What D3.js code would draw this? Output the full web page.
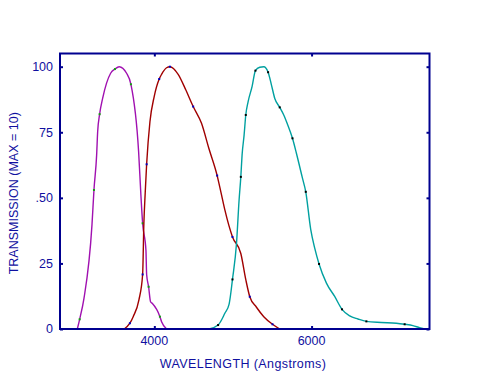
<!DOCTYPE html>
<html><head><meta charset="utf-8">
<script src="https://cdn.jsdelivr.net/npm/d3@7"></script>
<style>body{margin:0;background:#fff}svg{display:block}text{font-family:"Liberation Sans",Arial,sans-serif;fill:#1010a0}</style>
</head><body><svg id="c" width="491" height="379"></svg>
<script>
const xTicks = [4000, 6000];
const xTickLabels = ["4000", "6000"];
const yTicks = [0, 25, 50, 75, 100];
const yTickLabels = ["0", "25", ".50", "75", "100"];
const xTitle = "WAVELENGTH (Angstroms)";
const yTitle = "TRANSMISSION (MAX = 10)";

const uWave = [3020,3050,3105,3207,3232,3266,3279,3304,3343,3444,3499,3553,3647,3702,3800,3829,3851,3893,3902,3927,3952,3973,4071,4092,4156];
const uTrans = [0,3.7,11.7,39.8,53,66.3,75.2,81.9,88.0,97.5,99.1,100,97.5,93.3,67.6,51.1,40.3,30.1,20.8,16.1,10.4,9.8,4.7,2.8,0];

const bWave = [3617,3689,3731,3804,3851,3867,3884,3902,3944,3998,4062,4092,4156,4198,4303,4401,4494,4600,4693,4799,4846,4897,4994,5100,5164,5214,5299,5392,5503,5595];
const bTrans = [0,2.2,4.7,11.1,20.8,40.3,52,62.8,79.0,88.6,95.3,97.1,99.6,100,97.1,91.1,84.8,78.4,68.9,58.5,52.3,45.4,35.1,28.8,18.7,12.3,8.3,4.7,1.8,0];

const vWave = [4697,4811,4897,4951,4994,5045,5078,5100,5116,5142,5163,5193,5243,5286,5341,5392,5447,5490,5532,5595,5646,5693,5757,5807,5884,5926,5989,6040,6095,6189,6294,6387,6485,6590,6697,6888,7078,7184,7289,7374,7438];
const vTrans = [0,1.5,6.0,9.5,18.9,32.6,49.2,58.0,66.3,74.0,81.6,86.7,92.4,98.5,99.8,100,97.9,93.0,87.9,84.5,81.6,78.1,72.7,67.0,57.5,52.3,38.0,30.8,24.8,17.5,12.4,7.5,5.0,3.8,2.9,2.5,2.2,1.8,1.3,0.5,0];

const series = [
  {w: uWave, t: uTrans, color: "#a010b0", mark: "#10a010"},
  {w: bWave, t: bTrans, color: "#a00000", mark: "#0000c0"},
  {w: vWave, t: vTrans, color: "#00a0a0", mark: "#000000"}
];

const L = 60, R = 429.5, T = 53.5, B = 329;
const svg = d3.select("#c");
const x = d3.scaleLinear().domain([2800, 7500]).range([L, R]);
const y = d3.scaleLinear().domain([0, 100]).range([B, 66.7]);
const axisColor = "#000090";

// curves
const line = d3.line().x(d => x(d[0])).y(d => y(d[1])).curve(d3.curveMonotoneX);
series.forEach(s => {
  const pts = s.w.map((w, i) => [w, s.t[i]]);
  svg.append("path").attr("d", line(pts)).attr("fill", "none")
    .attr("stroke", s.color).attr("stroke-width", 1.4);
  svg.selectAll(null).data(pts.filter((d, i) => i % 3 === 1)).enter().append("rect")
    .attr("x", d => x(d[0]) - 1).attr("y", d => y(d[1]) - 1)
    .attr("width", 2).attr("height", 2).attr("fill", s.mark);
});

// frame
svg.append("rect").attr("x", L).attr("y", T).attr("width", R - L).attr("height", B - T)
  .attr("fill", "none").attr("stroke", axisColor).attr("stroke-width", 2);

// ticks via axes
const tickLen = 3;
svg.append("g").attr("transform", `translate(0,${B})`)
  .call(d3.axisTop(x).tickValues(xTicks).tickSize(tickLen).tickFormat(""))
  .call(g => g.select(".domain").remove())
  .call(g => g.selectAll("line").attr("stroke", axisColor).attr("stroke-width", 2));
svg.append("g").attr("transform", `translate(0,${T})`)
  .call(d3.axisBottom(x).tickValues(xTicks).tickSize(tickLen).tickFormat(""))
  .call(g => g.select(".domain").remove())
  .call(g => g.selectAll("line").attr("stroke", axisColor).attr("stroke-width", 2));
svg.append("g").attr("transform", `translate(${L},0)`)
  .call(d3.axisRight(y).tickValues(yTicks).tickSize(tickLen).tickFormat(""))
  .call(g => g.select(".domain").remove())
  .call(g => g.selectAll("line").attr("stroke", axisColor).attr("stroke-width", 2));
svg.append("g").attr("transform", `translate(${R},0)`)
  .call(d3.axisLeft(y).tickValues(yTicks).tickSize(tickLen).tickFormat(""))
  .call(g => g.select(".domain").remove())
  .call(g => g.selectAll("line").attr("stroke", axisColor).attr("stroke-width", 2));

// tick labels
svg.selectAll(null).data(xTicks).enter().append("text")
  .attr("x", d => x(d)).attr("y", 345).attr("text-anchor", "middle")
  .attr("font-size", 12.5).text((d, i) => xTickLabels[i]);
svg.selectAll(null).data(yTicks).enter().append("text")
  .attr("x", 53).attr("y", d => y(d) + 4.3).attr("text-anchor", "end")
  .attr("font-size", 12.5).text((d, i) => yTickLabels[i]);

// titles
svg.append("text").attr("x", 243).attr("y", 368).attr("text-anchor", "middle")
  .attr("font-size", 12.5).attr("letter-spacing", 0.4).text(xTitle);
svg.append("text").attr("transform", `translate(18,${(T + B) / 2 + 2}) rotate(-90)`)
  .attr("text-anchor", "middle").attr("font-size", 12.5).text(yTitle);
</script></body></html>
